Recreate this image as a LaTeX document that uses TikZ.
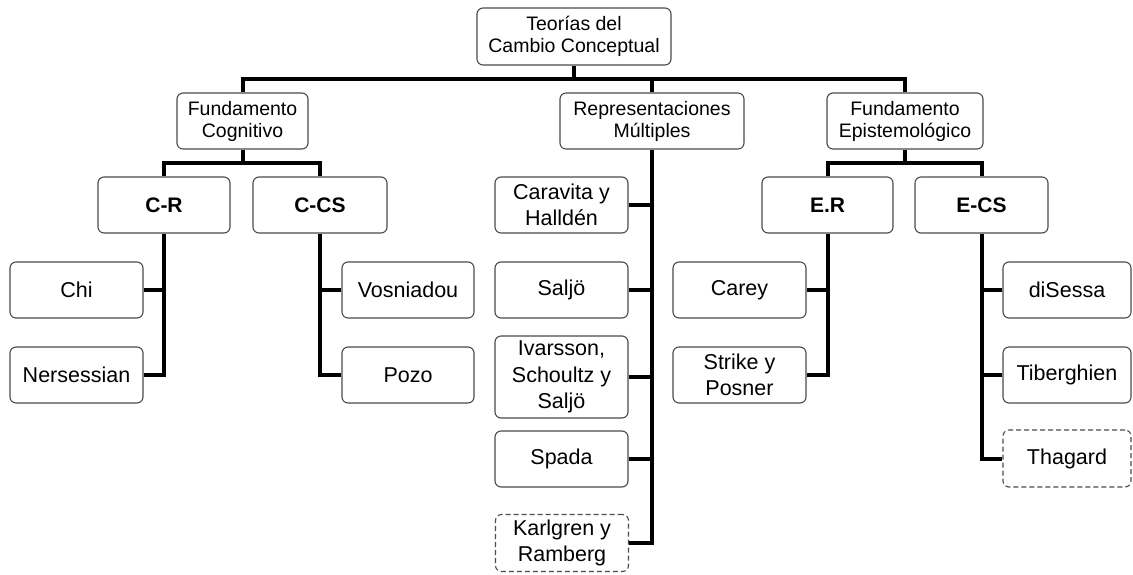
\documentclass[tikz,border=0pt]{standalone}
\usepackage{fontspec}
\setmainfont{Liberation Sans}
\definecolor{boxgray}{HTML}{4A4A4A}
\begin{document}
\begin{tikzpicture}[x=1pt,y=-1pt,
  box/.style={draw=boxgray, line width=1.1pt, rounded corners=6pt, align=center,
    inner sep=0pt, text=black, font=\fontsize{21.5}{26.5}\selectfont},
  upper/.style={box, font=\fontsize{19.5}{22}\selectfont},
  group/.style={box, font=\fontsize{21}{25}\selectfont\bfseries},
  tentative/.style={box, dash pattern=on 5pt off 3pt},
  wh/.style 2 args={minimum width=#1pt, minimum height=#2pt},
  link/.style={line width=4pt, line join=miter, draw=black}]

% canvas
\fill[white] (0,0) rectangle (1133,574);
\useasboundingbox (0,0) rectangle (1133,574);

% root and main branches
\node[upper, wh={194}{57}] (top) at (574,36.5) {Teorías del\\Cambio Conceptual};
\node[upper, wh={131}{56}] (fc) at (242.5,121) {Fundamento\\Cognitivo};
\node[upper, wh={184}{56}] (rm) at (652,121) {Representaciones\\Múltiples};
\node[upper, wh={156}{56}] (fe) at (905,121) {Fundamento\\Epistemológico};

% groups
\node[group, wh={132}{56}] (cr) at (164,205) {C-R};
\node[group, wh={134}{56}] (ccs) at (320,205) {C-CS};
\node[group, wh={131}{56}] (er) at (827.5,205) {E.R};
\node[group, wh={133}{56}] (ecs) at (981.5,205) {E-CS};

% authors: cognitive
\node[box, wh={133}{56}] (chi) at (76.5,290) {Chi};
\node[box, wh={133}{56}] (ners) at (76.5,375) {Nersessian};
\node[box, wh={132}{56}] (vos) at (408,290) {Vosniadou};
\node[box, wh={132}{56}] (pozo) at (408,375) {Pozo};

% authors: multiple representations
\node[box, wh={133}{56}] (cara) at (561.5,205) {Caravita y\\Halldén};
\node[box, wh={133}{56}] (saljo) at (561.5,290) {Saljö};
\node[box, wh={133}{82}] (ivar) at (561.5,377) {Ivarsson,\\Schoultz y\\Saljö};
\node[box, wh={133}{56}] (spada) at (561.5,459) {Spada};
\node[tentative, wh={133}{57}] (karl) at (562,543) {Karlgren y\\Ramberg};

% authors: epistemological
\node[box, wh={133}{56}] (carey) at (739.5,290) {Carey};
\node[box, wh={133}{56}] (strike) at (739.5,375) {Strike y\\Posner};
\node[box, wh={128}{56}] (dis) at (1067,290) {diSessa};
\node[box, wh={128}{56}] (tib) at (1067,375) {Tiberghien};
\node[tentative, wh={128}{57}] (thag) at (1067,458.5) {Thagard};

% bus lines
\coordinate (bus) at (0,79);
\coordinate (busc) at (0,163);

\draw[link] (fc.north) -- (fc.north |- bus) -- (fe.north |- bus) -- (fe.north);
\draw[link] (top.south) -- (top.south |- bus);
\draw[link] (rm.north) -- (rm.north |- bus);

\draw[link] (cr.north) -- (cr.north |- busc) -- (ccs.north |- busc) -- (ccs.north);
\draw[link] (fc.south) -- (fc.south |- busc);
\draw[link] (er.north) -- (er.north |- busc) -- (ecs.north |- busc) -- (ecs.north);
\draw[link] (fe.south) -- (fe.south |- busc);

% spines to authors
\draw[link] (cr.south) |- (ners.east);
\draw[link] (chi.east) -- (chi.east -| cr.south);
\draw[link] (ccs.south) |- (pozo.west);
\draw[link] (vos.west) -- (vos.west -| ccs.south);

\draw[link] (rm.south) |- (karl.east);
\foreach \n in {cara,saljo,ivar,spada}
  \draw[link] (\n.east) -- (\n.east -| rm.south);

\draw[link] (er.south) |- (strike.east);
\draw[link] (carey.east) -- (carey.east -| er.south);
\draw[link] (ecs.south) |- (thag.west);
\foreach \n in {dis,tib}
  \draw[link] (\n.west) -- (\n.west -| ecs.south);
\end{tikzpicture}
\end{document}
